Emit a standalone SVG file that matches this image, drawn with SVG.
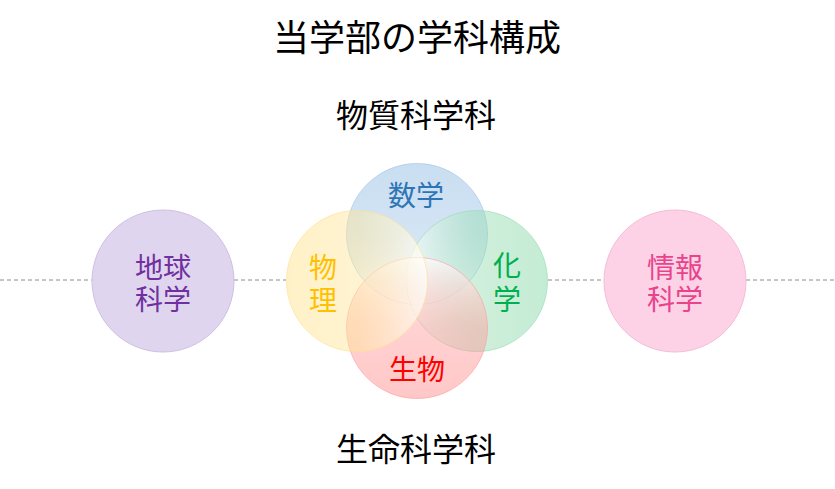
<svg xmlns="http://www.w3.org/2000/svg" width="835" height="489" viewBox="0 0 835 489">
<style>
.t{font-family:"Noto Sans CJK JP","Noto Sans CJK SC",sans-serif;text-anchor:middle;dominant-baseline:central}
.big{font-size:36px;fill:#000}
.sub{font-size:32px;fill:#000}
.lbl{font-size:28px}
.dash{stroke:#8c8c8c;stroke-width:1;stroke-dasharray:4 3;fill:none}
</style>
<defs>
<linearGradient id="gM" x1="0" y1="0" x2="0" y2="1">
<stop offset="0" stop-color="#9dc3e6" stop-opacity="0.55"/>
<stop offset="0.5" stop-color="#9dc3e6" stop-opacity="0.45"/>
<stop offset="1" stop-color="#ffffff" stop-opacity="0.7"/>
</linearGradient>
<linearGradient id="gB" x1="0" y1="1" x2="0" y2="0">
<stop offset="0" stop-color="#ff9a9a" stop-opacity="0.55"/>
<stop offset="0.5" stop-color="#ff9a9a" stop-opacity="0.45"/>
<stop offset="1" stop-color="#ffffff" stop-opacity="0.7"/>
</linearGradient>
<linearGradient id="gP" x1="0" y1="0" x2="1" y2="0">
<stop offset="0" stop-color="#ffe699" stop-opacity="0.55"/>
<stop offset="0.5" stop-color="#ffe699" stop-opacity="0.45"/>
<stop offset="1" stop-color="#ffffff" stop-opacity="0.7"/>
</linearGradient>
<linearGradient id="gC" x1="1" y1="0" x2="0" y2="0">
<stop offset="0" stop-color="#94dcb0" stop-opacity="0.55"/>
<stop offset="0.5" stop-color="#94dcb0" stop-opacity="0.45"/>
<stop offset="1" stop-color="#ffffff" stop-opacity="0.7"/>
</linearGradient>
</defs>
<rect width="835" height="489" fill="#ffffff"/>
<g id="connectors">
<line class="dash" x1="0" y1="280" x2="92" y2="280"/>
<line class="dash" x1="234" y1="280" x2="286" y2="280"/>
<line class="dash" x1="548" y1="280" x2="604" y2="280"/>
<line class="dash" x1="746" y1="280" x2="835" y2="280"/>
</g>
<text class="t big" x="417" y="35">当学部の学科構成</text>
<text class="t sub" x="416" y="113">物質科学科</text>
<text class="t sub" x="416" y="447">生命科学科</text>
<g id="chikyu">
<circle cx="163" cy="281" r="71" fill="#e0d5ee" stroke="#cfc0e3" stroke-width="1"/>
<text class="t lbl" fill="#7030a0"><tspan x="163" y="266">地球</tspan><tspan x="163" y="298">科学</tspan></text>
</g>
<g id="joho">
<circle cx="675" cy="281" r="71" fill="#fdd2e6" stroke="#f5bcd6" stroke-width="1"/>
<text class="t lbl" fill="#e8448c"><tspan x="675" y="266">情報</tspan><tspan x="675" y="298">科学</tspan></text>
</g>
<g id="sugaku">
<circle cx="417" cy="234" r="70.5" fill="url(#gM)" stroke="#9dc3e6" stroke-opacity="0.6" stroke-width="1"/>
</g>
<g id="kagaku">
<circle cx="477" cy="281" r="70.5" fill="url(#gC)" stroke="#94dcb0" stroke-opacity="0.6" stroke-width="1"/>
</g>
<g id="seibutsu">
<circle cx="417" cy="328" r="70.5" fill="url(#gB)" stroke="#ff9a9a" stroke-opacity="0.6" stroke-width="1"/>
</g>
<g id="butsuri">
<circle cx="357" cy="281" r="70.5" fill="url(#gP)" stroke="#ffe08a" stroke-opacity="0.6" stroke-width="1"/>
</g>
<g id="labels">
<text class="t lbl" x="416" y="194" fill="#2e75b6">数学</text>
<text class="t lbl" fill="#ffc000"><tspan x="323" y="266">物</tspan><tspan x="323" y="299">理</tspan></text>
<text class="t lbl" fill="#00b050"><tspan x="507" y="264">化</tspan><tspan x="507" y="298">学</tspan></text>
<text class="t lbl" x="417" y="368" fill="#ff0000">生物</text>
</g>
</svg>
